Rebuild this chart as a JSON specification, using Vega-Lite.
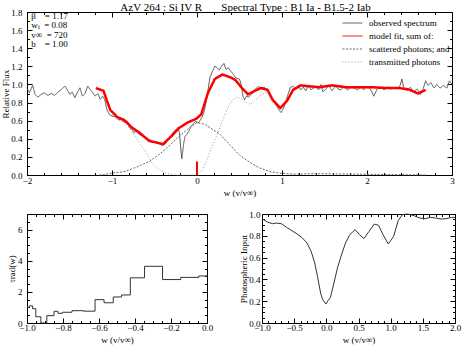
{
  "$schema": "https://vega.github.io/schema/vega-lite/v6.json",
  "background": "white",
  "padding": {"left": 1, "top": 1, "right": 2, "bottom": 0},
  "bounds": "flush",
  "spacing": 39,
  "config": {
    "font": "Liberation Serif",
    "view": {"stroke": null},
    "axis": {"grid": false, "labelFontSize": 9, "titleFontSize": 9, "titleFontWeight": "normal", "labelColor": "#000", "titleColor": "#000", "domainColor": "#000", "tickColor": "#000", "labelFlush": false, "labelOverlap": false, "domainWidth": 1, "tickWidth": 1},
    "legend": {"orient": "none", "legendX": 320, "legendY": 5.5, "title": null, "symbolType": "M-2,0H2", "symbolSize": 100, "labelFont": "Liberation Serif", "labelFontSize": 9, "labelColor": "#000", "labelOffset": 11, "rowPadding": 2, "padding": 0, "symbolStrokeWidth": 1}
  },
  "datasets": {
    "obs": [
      {"w":-2,"f":0.963},{"w":-1.972,"f":0.908},{"w":-1.952,"f":0.952},{"w":-1.933,"f":0.989},{"w":-1.905,"f":0.89},{"w":-1.873,"f":0.86},{"w":-1.833,"f":0.89},{"w":-1.794,"f":0.908},{"w":-1.754,"f":0.879},{"w":-1.714,"f":0.901},{"w":-1.675,"f":0.879},{"w":-1.635,"f":0.915},{"w":-1.595,"f":0.945},{"w":-1.556,"f":0.982},{"w":-1.524,"f":0.938},{"w":-1.496,"f":0.89},{"w":-1.468,"f":0.915},{"w":-1.437,"f":0.853},{"w":-1.405,"f":0.915},{"w":-1.377,"f":0.963},{"w":-1.349,"f":0.871},{"w":-1.317,"f":0.901},{"w":-1.286,"f":0.982},{"w":-1.258,"f":0.945},{"w":-1.23,"f":0.915},{"w":-1.198,"f":0.871},{"w":-1.167,"f":0.901},{"w":-1.139,"f":0.835},{"w":-1.111,"f":0.871},{"w":-1.087,"f":0.835},{"w":-1.06,"f":0.724},{"w":-1.032,"f":0.669},{"w":-1,"f":0.651},{"w":-0.96,"f":0.643},{"w":-0.921,"f":0.614},{"w":-0.881,"f":0.607},{"w":-0.849,"f":0.577},{"w":-0.821,"f":0.596},{"w":-0.794,"f":0.522},{"w":-0.762,"f":0.504},{"w":-0.742,"f":0.467},{"w":-0.714,"f":0.485},{"w":-0.683,"f":0.449},{"w":-0.643,"f":0.43},{"w":-0.603,"f":0.401},{"w":-0.563,"f":0.393},{"w":-0.524,"f":0.375},{"w":-0.484,"f":0.357},{"w":-0.444,"f":0.349},{"w":-0.405,"f":0.327},{"w":-0.365,"f":0.349},{"w":-0.345,"f":0.393},{"w":-0.317,"f":0.412},{"w":-0.286,"f":0.467},{"w":-0.254,"f":0.496},{"w":-0.226,"f":0.522},{"w":-0.206,"f":0.467},{"w":-0.194,"f":0.32},{"w":-0.179,"f":0.18},{"w":-0.167,"f":0.265},{"w":-0.155,"f":0.357},{"w":-0.139,"f":0.43},{"w":-0.119,"f":0.449},{"w":-0.095,"f":0.485},{"w":-0.067,"f":0.54},{"w":-0.048,"f":0.559},{"w":-0.016,"f":0.596},{"w":0.012,"f":0.57},{"w":0.032,"f":0.596},{"w":0.063,"f":0.643},{"w":0.091,"f":0.724},{"w":0.119,"f":0.871},{"w":0.151,"f":1.074},{"w":0.183,"f":1.147},{"w":0.21,"f":1.202},{"w":0.238,"f":1.184},{"w":0.262,"f":1.158},{"w":0.29,"f":1.202},{"w":0.317,"f":1.232},{"w":0.341,"f":1.165},{"w":0.369,"f":1.184},{"w":0.397,"f":1.147},{"w":0.429,"f":1.11},{"w":0.46,"f":1.07},{"w":0.5,"f":1.06},{"w":0.52,"f":1.0},{"w":0.54,"f":0.87},{"w":0.56,"f":0.83},{"w":0.58,"f":0.87},{"w":0.61,"f":0.86},{"w":0.64,"f":0.89},{"w":0.68,"f":0.94},{"w":0.72,"f":0.98},{"w":0.75,"f":0.95},{"w":0.79,"f":0.97},{"w":0.82,"f":0.93},{"w":0.85,"f":0.91},{"w":0.88,"f":0.85},{"w":0.91,"f":0.8},{"w":0.94,"f":0.76},{"w":0.97,"f":0.71},{"w":0.99,"f":0.69},{"w":1.02,"f":0.74},{"w":1.05,"f":0.83},{"w":1.07,"f":0.89},{"w":1.1,"f":0.97},{"w":1.13,"f":0.98},{"w":1.16,"f":0.95},{"w":1.19,"f":0.99},{"w":1.22,"f":0.94},{"w":1.25,"f":0.97},{"w":1.28,"f":0.93},{"w":1.31,"f":0.99},{"w":1.34,"f":0.94},{"w":1.37,"f":0.96},{"w":1.4,"f":0.97},{"w":1.43,"f":0.94},{"w":1.46,"f":1.0},{"w":1.48,"f":0.92},{"w":1.51,"f":0.94},{"w":1.55,"f":0.99},{"w":1.59,"f":0.93},{"w":1.63,"f":0.98},{"w":1.66,"f":0.95},{"w":1.69,"f":0.94},{"w":1.73,"f":0.97},{"w":1.77,"f":0.94},{"w":1.81,"f":0.97},{"w":1.85,"f":0.96},{"w":1.89,"f":0.94},{"w":1.93,"f":0.97},{"w":1.96,"f":0.94},{"w":2,"f":0.98},{"w":2.04,"f":0.95},{"w":2.08,"f":0.87},{"w":2.12,"f":0.95},{"w":2.16,"f":0.97},{"w":2.2,"f":0.94},{"w":2.24,"f":0.97},{"w":2.28,"f":0.95},{"w":2.32,"f":0.96},{"w":2.36,"f":0.95},{"w":2.39,"f":0.99},{"w":2.41,"f":1.06},{"w":2.43,"f":0.97},{"w":2.47,"f":0.93},{"w":2.51,"f":0.97},{"w":2.55,"f":0.92},{"w":2.59,"f":0.95},{"w":2.63,"f":0.89},{"w":2.66,"f":0.95},{"w":2.69,"f":1.04},{"w":2.72,"f":0.99},{"w":2.75,"f":1.02},{"w":2.79,"f":0.96},{"w":2.82,"f":1.0},{"w":2.86,"f":0.96},{"w":2.9,"f":0.99},{"w":2.94,"f":0.96},{"w":2.97,"f":1.04},{"w":3,"f":1.0}
    ],
    "fit": [
      {"w":-1.19,"f":0.96},{"w":-1.1,"f":0.93},{"w":-1.06,"f":0.82},{"w":-1.02,"f":0.72},{"w":-0.94,"f":0.64},{"w":-0.86,"f":0.61},{"w":-0.76,"f":0.52},{"w":-0.68,"f":0.47},{"w":-0.56,"f":0.375},{"w":-0.48,"f":0.36},{"w":-0.4,"f":0.34},{"w":-0.3,"f":0.43},{"w":-0.21,"f":0.52},{"w":-0.11,"f":0.58},{"w":-0.01,"f":0.62},{"w":0.05,"f":0.67},{"w":0.13,"f":0.91},{"w":0.21,"f":1.06},{"w":0.3,"f":1.11},{"w":0.39,"f":1.08},{"w":0.45,"f":1.05},{"w":0.52,"f":0.97},{"w":0.6,"f":0.89},{"w":0.68,"f":0.93},{"w":0.75,"f":0.96},{"w":0.83,"f":0.94},{"w":0.89,"f":0.83},{"w":0.98,"f":0.74},{"w":1.06,"f":0.82},{"w":1.13,"f":0.94},{"w":1.22,"f":0.99},{"w":1.32,"f":0.98},{"w":1.44,"f":0.97},{"w":1.59,"f":0.99},{"w":1.75,"f":0.97},{"w":1.91,"f":0.97},{"w":2.06,"f":0.97},{"w":2.22,"f":0.96},{"w":2.38,"f":0.96},{"w":2.49,"f":0.945},{"w":2.6,"f":0.9},{"w":2.69,"f":0.94}
    ],
    "sca": [
      {"w":-1.15,"f":0.0},{"w":-1.1,"f":0.005},{"w":-1.0,"f":0.02},{"w":-0.84,"f":0.04},{"w":-0.68,"f":0.1},{"w":-0.56,"f":0.15},{"w":-0.44,"f":0.23},{"w":-0.33,"f":0.32},{"w":-0.21,"f":0.43},{"w":-0.09,"f":0.52},{"w":0.0,"f":0.58},{"w":0.09,"f":0.56},{"w":0.19,"f":0.5},{"w":0.27,"f":0.45},{"w":0.39,"f":0.33},{"w":0.5,"f":0.22},{"w":0.62,"f":0.14},{"w":0.73,"f":0.08},{"w":0.85,"f":0.04},{"w":0.97,"f":0.02},{"w":1.13,"f":0.01},{"w":1.44,"f":0.015},{"w":1.83,"f":0.01},{"w":2.22,"f":0.005},{"w":2.69,"f":0.0}
    ],
    "tra": [
      {"w":-1.19,"f":0.955},{"w":-1.1,"f":0.925},{"w":-1.06,"f":0.815},{"w":-1.02,"f":0.7},{"w":-0.94,"f":0.61},{"w":-0.84,"f":0.58},{"w":-0.76,"f":0.47},{"w":-0.68,"f":0.36},{"w":-0.6,"f":0.25},{"w":-0.52,"f":0.12},{"w":-0.44,"f":0.055},{"w":-0.365,"f":0.02},{"w":-0.25,"f":0.0},{"w":0.0,"f":0.0},{"w":0.07,"f":0.06},{"w":0.15,"f":0.25},{"w":0.23,"f":0.43},{"w":0.3,"f":0.6},{"w":0.36,"f":0.74},{"w":0.42,"f":0.83},{"w":0.47,"f":0.86},{"w":0.52,"f":0.84},{"w":0.58,"f":0.8},{"w":0.63,"f":0.78},{"w":0.69,"f":0.83},{"w":0.76,"f":0.89},{"w":0.82,"f":0.91},{"w":0.89,"f":0.8},{"w":0.98,"f":0.72},{"w":1.06,"f":0.81},{"w":1.13,"f":0.93},{"w":1.22,"f":0.98},{"w":1.32,"f":0.97},{"w":1.44,"f":0.955},{"w":1.59,"f":0.98},{"w":1.75,"f":0.96},{"w":1.91,"f":0.96},{"w":2.06,"f":0.96},{"w":2.22,"f":0.955},{"w":2.38,"f":0.955},{"w":2.49,"f":0.945},{"w":2.6,"f":0.9},{"w":2.69,"f":0.94}
    ],
    "tau": [
      {"w":-1.0,"t":1.0},{"w":-0.987,"t":1.1},{"w":-0.969,"t":0.92},{"w":-0.951,"t":0.4},{"w":-0.923,"t":0.0},{"w":-0.89,"t":0.47},{"w":-0.85,"t":0.75},{"w":-0.828,"t":0.62},{"w":-0.804,"t":0.69},{"w":-0.75,"t":0.79},{"w":-0.686,"t":0.76},{"w":-0.622,"t":1.5},{"w":-0.572,"t":1.3},{"w":-0.521,"t":1.67},{"w":-0.475,"t":1.8},{"w":-0.426,"t":2.9},{"w":-0.347,"t":3.64},{"w":-0.247,"t":2.79},{"w":-0.146,"t":2.93},{"w":-0.046,"t":3.02},{"w":0.0,"t":3.02}
    ],
    "pho": [
      {"w":-1,"p":0.957},{"w":-0.918,"p":0.927},{"w":-0.836,"p":0.911},{"w":-0.78,"p":0.917},{"w":-0.7,"p":0.911},{"w":-0.618,"p":0.878},{"w":-0.536,"p":0.847},{"w":-0.454,"p":0.817},{"w":-0.373,"p":0.78},{"w":-0.3,"p":0.734},{"w":-0.236,"p":0.657},{"w":-0.18,"p":0.55},{"w":-0.138,"p":0.428},{"w":-0.089,"p":0.275},{"w":-0.056,"p":0.214},{"w":-0.007,"p":0.174},{"w":0.026,"p":0.205},{"w":0.064,"p":0.235},{"w":0.118,"p":0.367},{"w":0.173,"p":0.505},{"w":0.227,"p":0.61},{"w":0.298,"p":0.734},{"w":0.364,"p":0.81},{"w":0.446,"p":0.856},{"w":0.517,"p":0.81},{"w":0.582,"p":0.774},{"w":0.664,"p":0.841},{"w":0.746,"p":0.908},{"w":0.811,"p":0.896},{"w":0.882,"p":0.81},{"w":0.964,"p":0.725},{"w":1.046,"p":0.795},{"w":1.117,"p":0.939},{"w":1.182,"p":0.994},{"w":1.264,"p":1.0},{"w":1.346,"p":0.988},{"w":1.455,"p":0.963},{"w":1.537,"p":0.957},{"w":1.62,"p":0.969},{"w":1.7,"p":0.963},{"w":1.78,"p":0.954},{"w":1.86,"p":0.957},{"w":1.95,"p":0.969},{"w":2,"p":0.969}
    ],
    "note": [
      {"t": "β\u00a0\u00a0\u00a0\u00a0= 1.17\nwₜ\u00a0\u00a0= 0.08\nv∞\u00a0\u00a0= 720\nb\u00a0\u00a0\u00a0\u00a0= 1.00"}
    ]
  },
  "vconcat": [
    {
      "width": 425,
      "height": 163,
      "title": {"text": "AzV 264 : Si IV R\u00a0\u00a0\u00a0\u00a0\u00a0\u00a0\u00a0Spectral Type : B1 Ia - B1.5-2 Iab", "fontSize": 11, "fontWeight": "normal", "offset": -4.5, "dx": 6, "color": "#000", "font": "Liberation Serif"},
      "layer": [
        {
          "data": {"name": "obs"},
          "mark": {"type": "line", "strokeWidth": 1},
          "encoding": {
            "x": {"field": "w", "type": "quantitative", "scale": {"domain": [-2, 3], "nice": false, "zero": false},
              "axis": {"orient": "bottom", "values": [-2,-1.8,-1.6,-1.4,-1.2,-1,-0.8,-0.6,-0.4,-0.2,0,0.2,0.4,0.6,0.8,1,1.2,1.4,1.6,1.8,2,2.2,2.4,2.6,2.8,3],
                "tickSize": {"condition": {"test": "abs(datum.value-round(datum.value))<0.001", "value": -5}, "value": -2.5},
                "labelExpr": "abs(datum.value-round(datum.value))<0.001 ? format(datum.value,'d') : ''",
                "labelPadding": 6.5, "title": "w (v/v∞)", "titlePadding": 0}},
            "y": {"field": "f", "type": "quantitative", "scale": {"domain": [0, 1.8], "nice": false, "zero": false},
              "axis": {"orient": "left", "values": [0,0.1,0.2,0.3,0.4,0.5,0.6,0.7,0.8,0.9,1,1.1,1.2,1.3,1.4,1.5,1.6,1.7,1.8],
                "tickSize": {"condition": {"test": "abs(datum.value*5-round(datum.value*5))<0.001", "value": -5}, "value": -2.5},
                "labelExpr": "abs(datum.value*5-round(datum.value*5))<0.001 ? format(datum.value,'.1f') : ''",
                "labelPadding": 10, "title": "Relative Flux", "titlePadding": 0}},
            "color": {"datum": "observed spectrum", "scale": {"domain": ["observed spectrum", "model fit, sum of:", "scattered photons; and", "transmitted photons"], "range": ["#555555", "#ff0000", "#666666", "#999999"]},
              "legend": {"encoding": {"symbols": {"update": {"strokeWidth": {"signal": "datum.value === 'model fit, sum of:' ? 2.5 : 1"}}}}}},
            "strokeDash": {"datum": "observed spectrum", "scale": {"domain": ["observed spectrum", "model fit, sum of:", "scattered photons; and", "transmitted photons"], "range": [[1, 0], [1, 0], [2, 1.5], [1, 2]]},
              "legend": {"encoding": {"symbols": {"update": {"strokeWidth": {"signal": "datum.value === 'model fit, sum of:' ? 2.5 : 1"}}}}}}
          }
        },
        {
          "data": {"name": "sca"},
          "mark": {"type": "line", "strokeWidth": 1},
          "encoding": {
            "x": {"field": "w", "type": "quantitative", "axis": null},
            "y": {"field": "f", "type": "quantitative", "axis": null},
            "color": {"datum": "scattered photons; and"},
            "strokeDash": {"datum": "scattered photons; and"}
          }
        },
        {
          "data": {"name": "tra"},
          "mark": {"type": "line", "strokeWidth": 1},
          "encoding": {
            "x": {"field": "w", "type": "quantitative", "axis": null},
            "y": {"field": "f", "type": "quantitative", "axis": null},
            "color": {"datum": "transmitted photons"},
            "strokeDash": {"datum": "transmitted photons"}
          }
        },
        {
          "data": {"name": "fit"},
          "mark": {"type": "line", "strokeWidth": 2.5},
          "encoding": {
            "x": {"field": "w", "type": "quantitative",
              "axis": {"orient": "top", "values": [-2,-1.8,-1.6,-1.4,-1.2,-1,-0.8,-0.6,-0.4,-0.2,0,0.2,0.4,0.6,0.8,1,1.2,1.4,1.6,1.8,2,2.2,2.4,2.6,2.8,3],
                "tickSize": {"condition": {"test": "abs(datum.value-round(datum.value))<0.001", "value": -5}, "value": -2.5},
                "labels": false, "title": null}},
            "y": {"field": "f", "type": "quantitative",
              "axis": {"orient": "right", "values": [0,0.1,0.2,0.3,0.4,0.5,0.6,0.7,0.8,0.9,1,1.1,1.2,1.3,1.4,1.5,1.6,1.7,1.8],
                "tickSize": {"condition": {"test": "abs(datum.value*5-round(datum.value*5))<0.001", "value": -5}, "value": -2.5},
                "labels": false, "title": null}},
            "color": {"datum": "model fit, sum of:"},
            "strokeDash": {"datum": "model fit, sum of:"}
          }
        },
        {
          "data": {"values": [{"m": "v0"}]},
          "mark": {"type": "rule", "color": "#ff0000", "strokeWidth": 2},
          "encoding": {
            "x": {"datum": 0, "type": "quantitative", "axis": null},
            "y": {"datum": 0, "type": "quantitative", "axis": null},
            "y2": {"datum": 0.15}
          }
        },
        {
          "data": {"name": "note"},
          "mark": {"type": "text", "align": "left", "baseline": "top", "fontSize": 9, "lineBreak": "\n", "lineHeight": 9.4, "color": "#000", "font": "Liberation Serif"},
          "encoding": {
            "text": {"field": "t"},
            "x": {"datum": -1.95, "type": "quantitative", "axis": null},
            "y": {"datum": 1.8, "type": "quantitative", "axis": null}
          }
        }
      ],
      "resolve": {"axis": {"x": "independent", "y": "independent"}}
    },
    {
      "hconcat": [
        {
          "width": 180,
          "height": 109,
          "data": {"name": "tau"},
          "layer": [
            {
              "mark": {"type": "line", "interpolate": "step-after", "color": "#333333", "strokeWidth": 1},
              "encoding": {
                "x": {"field": "w", "type": "quantitative", "scale": {"domain": [-1, 0], "nice": false, "zero": false},
                  "axis": {"orient": "bottom", "values": [-1,-0.95,-0.9,-0.85,-0.8,-0.75,-0.7,-0.65,-0.6,-0.55,-0.5,-0.45,-0.4,-0.35,-0.3,-0.25,-0.2,-0.15,-0.1,-0.05,0],
                    "tickSize": {"condition": {"test": "abs(datum.value*5-round(datum.value*5))<0.001", "value": -5}, "value": -2.5},
                    "labelExpr": "abs(datum.value*5-round(datum.value*5))<0.001 ? format(datum.value,'.1f') : ''",
                    "labelPadding": 5, "title": "w (v/v∞)", "titlePadding": 1}},
                "y": {"field": "t", "type": "quantitative", "scale": {"domain": [0, 7], "nice": false, "zero": false},
                  "axis": {"orient": "left", "values": [0,0.5,1,1.5,2,2.5,3,3.5,4,4.5,5,5.5,6,6.5,7],
                    "tickSize": {"condition": {"test": "abs(datum.value/2-round(datum.value/2))<0.001", "value": -5}, "value": -2.5},
                    "labelExpr": "abs(datum.value/2-round(datum.value/2))<0.001 && datum.value < 7 ? format(datum.value,'d') : ''",
                    "labelPadding": 10, "title": "τrad(w)", "titlePadding": 1}}
              }
            },
            {
              "mark": {"type": "line", "interpolate": "step-after", "strokeOpacity": 0},
              "encoding": {
                "x": {"field": "w", "type": "quantitative",
                  "axis": {"orient": "top", "values": [-1,-0.95,-0.9,-0.85,-0.8,-0.75,-0.7,-0.65,-0.6,-0.55,-0.5,-0.45,-0.4,-0.35,-0.3,-0.25,-0.2,-0.15,-0.1,-0.05,0],
                    "tickSize": {"condition": {"test": "abs(datum.value*5-round(datum.value*5))<0.001", "value": -5}, "value": -2.5},
                    "labels": false, "title": null}},
                "y": {"field": "t", "type": "quantitative",
                  "axis": {"orient": "right", "values": [0,0.5,1,1.5,2,2.5,3,3.5,4,4.5,5,5.5,6,6.5,7],
                    "tickSize": {"condition": {"test": "abs(datum.value/2-round(datum.value/2))<0.001", "value": -5}, "value": -2.5},
                    "labels": false, "title": null}}
              }
            }
          ],
          "resolve": {"axis": {"x": "independent", "y": "independent"}}
        },
        {
          "width": 193,
          "height": 109,
          "data": {"name": "pho"},
          "layer": [
            {
              "mark": {"type": "line", "color": "#333333", "strokeWidth": 1},
              "encoding": {
                "x": {"field": "w", "type": "quantitative", "scale": {"domain": [-1, 2], "nice": false, "zero": false},
                  "axis": {"orient": "bottom", "values": [-1,-0.9,-0.8,-0.7,-0.6,-0.5,-0.4,-0.3,-0.2,-0.1,0,0.1,0.2,0.3,0.4,0.5,0.6,0.7,0.8,0.9,1,1.1,1.2,1.3,1.4,1.5,1.6,1.7,1.8,1.9,2],
                    "tickSize": {"condition": {"test": "abs(datum.value*2-round(datum.value*2))<0.001", "value": -5}, "value": -2.5},
                    "labelExpr": "abs(datum.value*2-round(datum.value*2))<0.001 ? format(datum.value,'.1f') : ''",
                    "labelPadding": 5, "title": "w (v/v∞)", "titlePadding": 1}},
                "y": {"field": "p", "type": "quantitative", "scale": {"domain": [0, 1], "nice": false, "zero": false},
                  "axis": {"orient": "left", "values": [0,0.05,0.1,0.15,0.2,0.25,0.3,0.35,0.4,0.45,0.5,0.55,0.6,0.65,0.7,0.75,0.8,0.85,0.9,0.95,1],
                    "tickSize": {"condition": {"test": "abs(datum.value*5-round(datum.value*5))<0.001", "value": -5}, "value": -2.5},
                    "labelExpr": "abs(datum.value*5-round(datum.value*5))<0.001 ? format(datum.value,'.1f') : ''",
                    "labelPadding": 7, "title": "Photospheric Input", "titlePadding": 0}}
              }
            },
            {
              "mark": {"type": "line", "strokeOpacity": 0},
              "encoding": {
                "x": {"field": "w", "type": "quantitative",
                  "axis": {"orient": "top", "values": [-1,-0.9,-0.8,-0.7,-0.6,-0.5,-0.4,-0.3,-0.2,-0.1,0,0.1,0.2,0.3,0.4,0.5,0.6,0.7,0.8,0.9,1,1.1,1.2,1.3,1.4,1.5,1.6,1.7,1.8,1.9,2],
                    "tickSize": {"condition": {"test": "abs(datum.value*2-round(datum.value*2))<0.001", "value": -5}, "value": -2.5},
                    "labels": false, "title": null}},
                "y": {"field": "p", "type": "quantitative",
                  "axis": {"orient": "right", "values": [0,0.05,0.1,0.15,0.2,0.25,0.3,0.35,0.4,0.45,0.5,0.55,0.6,0.65,0.7,0.75,0.8,0.85,0.9,0.95,1],
                    "tickSize": {"condition": {"test": "abs(datum.value*5-round(datum.value*5))<0.001", "value": -5}, "value": -2.5},
                    "labels": false, "title": null}}
              }
            }
          ],
          "resolve": {"axis": {"x": "independent", "y": "independent"}}
        }
      ],
      "spacing": 55,
      "bounds": "flush"
    }
  ]
}
